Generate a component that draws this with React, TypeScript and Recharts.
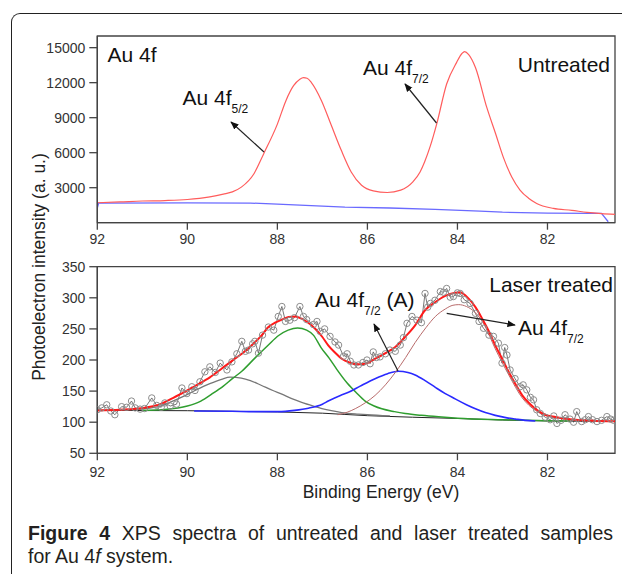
import { LineChart, Line, XAxis, YAxis, ReferenceArea } from "recharts";

// ---- untreated (top panel) ----
const untreatedE = [92, 91.5, 91, 90.5, 90, 89.5, 89.2, 89, 88.8, 88.52, 88.3, 88, 87.81, 87.64, 87.5, 87.42, 87.34, 87.24, 87.02, 86.8, 86.58, 86.36, 86.13, 85.87, 85.56, 85.26, 84.99, 84.83, 84.73, 84.6, 84.46, 84.24, 84.02, 83.9, 83.84, 83.75, 83.6, 83.35, 83.15, 82.98, 82.79, 82.61, 82.42, 82.24, 81.87, 81.46, 81.12, 80.8, 80.5];
const untreatedI = [1710, 1780, 1860, 1900, 1990, 2220, 2450, 2640, 3050, 4200, 5940, 8450, 10460, 11740, 12300, 12430, 12380, 11990, 10460, 8330, 6200, 4350, 3210, 2730, 2590, 2790, 3500, 4350, 5200, 6600, 8470, 11890, 13720, 14500, 14660, 14400, 13300, 9900, 7600, 5600, 3900, 2800, 2100, 1650, 1225, 1060, 885, 780, 716];
const untreatedBgE = [92, 91.97, 90, 88.6, 88, 87.5, 86.5, 85.5, 84.5, 83.5, 83, 82, 81, 80.8, 80.65];
const untreatedBgI = [1250, 1680, 1700, 1680, 1600, 1510, 1330, 1260, 1150, 1000, 900, 820, 800, 800, 80];

// ---- laser treated (bottom panel) ----
const rawE = [92, 91.9, 91.79, 91.7, 91.61, 91.46, 91.35, 91.24, 91.16, 91.05, 90.95, 90.79, 90.68, 90.58, 90.5, 90.38, 90.24, 90.12, 90.01, 89.9, 89.83, 89.72, 89.61, 89.5, 89.38, 89.27, 89.12, 89.01, 88.9, 88.79, 88.71, 88.64, 88.55, 88.5, 88.42, 88.33, 88.2, 88.08, 87.98, 87.9, 87.82, 87.72, 87.62, 87.5, 87.42, 87.35, 87.2, 87.12, 87.05, 86.95, 86.83, 86.72, 86.64, 86.53, 86.45, 86.38, 86.3, 86.2, 86.1, 86.01, 85.94, 85.87, 85.8, 85.72, 85.6, 85.5, 85.38, 85.27, 85.2, 85.12, 85.01, 84.9, 84.8, 84.72, 84.66, 84.6, 84.5, 84.38, 84.31, 84.24, 84.16, 84.09, 84, 83.94, 83.85, 83.72, 83.6, 83.52, 83.42, 83.3, 83.2, 83.09, 83.01, 82.95, 82.9, 82.83, 82.72, 82.61, 82.54, 82.46, 82.38, 82.31, 82.24, 82.16, 82.05, 81.94, 81.86, 81.79, 81.7, 81.61, 81.5, 81.42, 81.35, 81.24, 81.16, 81.09, 81, 80.9, 80.8, 80.68, 80.6, 80.53];
const rawI = [120, 123, 128, 118, 112, 125, 124, 134, 123, 121, 122, 139, 127, 124, 131, 126, 129, 155, 146, 157, 151, 165, 181, 189, 180, 195, 184, 197, 210, 230, 214, 216, 226, 230, 211, 240, 253, 248, 270, 286, 262, 264, 268, 286, 270, 265, 257, 262, 246, 250, 238, 229, 224, 206, 210, 198, 192, 192, 196, 200, 194, 213, 204, 205, 210, 216, 214, 224, 236, 259, 270, 264, 260, 307, 285, 291, 296, 310, 309, 315, 301, 302, 308, 307, 297, 291, 275, 262, 251, 240, 238, 227, 195, 220, 208, 184, 170, 157, 160, 152, 140, 136, 120, 114, 108, 104, 110, 98, 103, 112, 105, 100, 117, 101, 104, 109, 104, 101, 103, 109, 105, 103];

const fitE = [92, 91.5, 90.94, 90.6, 90.35, 90.1, 89.83, 89.5, 89.24, 89, 88.79, 88.55, 88.35, 88.2, 88.05, 87.9, 87.75, 87.6, 87.46, 87.3, 87.16, 87, 86.87, 86.72, 86.57, 86.4, 86.2, 86.05, 85.83, 85.6, 85.38, 85.15, 84.94, 84.72, 84.49, 84.27, 84.05, 83.95, 83.75, 83.6, 83.45, 83.3, 83.16, 83, 82.86, 82.7, 82.56, 82.4, 82.27, 82.05, 81.82, 81.6, 81.38, 81, 80.5];
const fitI = [119, 120, 123.3, 129, 137.8, 147, 158.2, 172, 186, 199, 210, 225, 239.7, 253, 260, 265, 269, 270, 266.4, 259, 250.3, 237, 223.6, 212, 202, 196, 193, 194, 202, 211, 221, 238, 255.8, 280, 293.2, 303, 308.2, 309, 298.6, 285, 266.4, 246, 223.6, 201, 180.7, 160, 143.2, 130, 121.7, 112, 108.4, 105.5, 104, 102.5, 101.4];

const bgE = [92, 90, 89, 88, 87, 86.5, 86, 85, 84, 83, 82, 81, 80.5];
const bgI = [119, 118.5, 117.5, 116.5, 114.5, 112.5, 110.5, 108, 106, 103.5, 102, 101.5, 101];

const grayE = [92, 91.5, 91, 90.6, 90.35, 90.1, 89.83, 89.5, 89.24, 89.05, 88.8, 88.6, 88.35, 88.1, 87.9, 87.68, 87.46, 87.2, 87.01, 86.8, 86.57, 86.2, 86, 85.5];
const grayI = [119, 119.5, 121.5, 126, 133, 141, 151, 162, 169, 172.5, 171, 167, 159, 151, 145, 138, 132, 126, 122, 118.5, 115.5, 113, 112, 110];

const greenE = [91, 90.5, 90, 89.7, 89.46, 89.2, 89, 88.79, 88.5, 88.2, 87.98, 87.76, 87.55, 87.35, 87.2, 87.03, 86.85, 86.68, 86.45, 86.24, 86.05, 85.85, 85.68, 85.4, 85.16, 84.8, 84.42, 84, 83, 82, 81.5];
const greenI = [119, 120.5, 126, 134, 145, 158, 170, 182, 203, 224, 239, 248, 251.5, 248, 240, 220, 203, 185, 163, 147, 134, 126, 121.5, 117, 114, 111, 108.6, 106.5, 104, 102.3, 101.8];

const blueE = [89.85, 89, 88.5, 87.98, 87.62, 87.31, 87, 86.87, 86.6, 86.42, 86.16, 85.83, 85.55, 85.31, 85.1, 84.94, 84.7, 84.49, 84.27, 84.05, 83.8, 83.6, 83.38, 83.16, 82.9, 82.71, 82.5, 82.27];
const blueI = [118, 117.5, 117, 117, 119, 122.5, 129, 134, 143, 148, 158, 170, 178, 182, 180, 176, 166, 156, 146, 137.5, 128, 121.5, 115.5, 111, 107, 105, 103, 102];

const brownE = [86.66, 86.45, 86.27, 86.05, 85.83, 85.6, 85.38, 85.15, 84.94, 84.7, 84.49, 84.27, 84.1, 83.97, 83.8, 83.6, 83.4, 83.16, 82.86, 82.56, 82.27, 81.97, 81.53, 81.08, 80.5];
const brownI = [112, 116, 121.7, 131, 143, 160, 180, 204, 228, 252, 270, 282, 288, 289, 286, 276, 256, 218, 176, 139, 119, 109, 104.6, 102.5, 101.4];

const energyTicks = [92, 90, 88, 86, 84, 82];
const topTicks = [3000, 6000, 9000, 12000, 15000];
const bottomTicks = [50, 100, 150, 200, 250, 300, 350];

const rows = (es: number[], vs: number[]) => es.map((e, i) => ({ e, v: vs[i] }));

const FONT = "'Liberation Sans', Arial, sans-serif";
const AXIS = "#444";
const tickStyle = { fontSize: 14, fill: "#333", fontFamily: FONT };
const captionStyle = { position: "absolute" as const, left: 28, margin: 0, fontFamily: FONT, fontSize: 19.5, lineHeight: "22.5px", color: "#231f20" };

function Sub({ x, y, main, sub, tail }: { x: number; y: number; main: string; sub: string; tail?: string }) {
  return (
    <text x={x} y={y} fontSize={21} fontFamily={FONT} fill="#111">
      {main}
      <tspan fontSize={12} dy={8}>{sub}</tspan>
      {tail ? <tspan dy={-8}>{tail}</tspan> : null}
    </text>
  );
}

export default function App() {
  const xAxisProps = {
    type: "number" as const,
    dataKey: "e",
    domain: [80.5, 92],
    reversed: true,
    ticks: energyTicks,
    allowDataOverflow: true,
    tickSize: 7,
    tick: tickStyle,
    stroke: AXIS,
    strokeWidth: 1.3,
  };
  const yCommon = { type: "number" as const, width: 60, tickSize: 8, tickMargin: 4, tick: tickStyle, stroke: AXIS, strokeWidth: 1.3 };

  return (
    <div style={{ position: "absolute", left: 0, top: 0, width: 622, height: 575, overflow: "hidden", background: "#fff" }}>
      {/* frame */}
      <div style={{ position: "absolute", left: 11, top: 13, width: 700, height: 560, borderTop: "1.3px solid #222", borderLeft: "1.3px solid #222", borderTopLeftRadius: 9 }} />

      <div style={{ position: "absolute", left: 0, top: 0 }}>
        <LineChart width={622} height={250} margin={{ top: 36, right: 7, left: 37.3, bottom: 0 }}>
          <XAxis {...xAxisProps} tickMargin={4} height={27.3} />
          <YAxis {...yCommon} domain={[0, 16000]} ticks={topTicks} />
          <ReferenceArea x1={80.5} x2={92} y1={0} y2={16000} fill="none" stroke={AXIS} strokeWidth={1.3} />
          <Line data={rows(untreatedBgE, untreatedBgI)} dataKey="v" type="linear" stroke="#6a6aff" strokeWidth={1.3} dot={false} isAnimationActive={false} />
          <Line data={rows(untreatedE, untreatedI)} dataKey="v" type="monotone" stroke="#ff5c5c" strokeWidth={1.2} dot={false} isAnimationActive={false} />
        </LineChart>
      </div>

      <div style={{ position: "absolute", left: 0, top: 250 }}>
        <LineChart width={622} height={230.3} margin={{ top: 16.7, right: 7, left: 37.3, bottom: 0 }}>
          <XAxis {...xAxisProps} tickMargin={7} height={27} />
          <YAxis {...yCommon} domain={[50, 350]} ticks={bottomTicks} />
          <ReferenceArea x1={80.5} x2={92} y1={50} y2={350} fill="none" stroke={AXIS} strokeWidth={1.3} />
          <Line data={rows(rawE, rawI)} dataKey="v" type="linear" stroke="#555" strokeWidth={0.8} dot={{ r: 3.2, stroke: "#8c8c8c", strokeWidth: 1, fill: "none" }} isAnimationActive={false} />
          <Line data={rows(bgE, bgI)} dataKey="v" type="linear" stroke="#222" strokeWidth={1} dot={false} isAnimationActive={false} />
          <Line data={rows(grayE, grayI)} dataKey="v" type="monotone" stroke="#777" strokeWidth={1.3} dot={false} isAnimationActive={false} />
          <Line data={rows(greenE, greenI)} dataKey="v" type="monotone" stroke="#2f9e2f" strokeWidth={1.5} dot={false} isAnimationActive={false} />
          <Line data={rows(blueE, blueI)} dataKey="v" type="monotone" stroke="#2a2aff" strokeWidth={1.6} dot={false} isAnimationActive={false} />
          <Line data={rows(brownE, brownI)} dataKey="v" type="monotone" stroke="#b86a6a" strokeWidth={1} dot={false} isAnimationActive={false} />
          <Line data={rows(fitE, fitI)} dataKey="v" type="monotone" stroke="#ff1a1a" strokeWidth={2} dot={false} isAnimationActive={false} />
        </LineChart>
      </div>

      {/* annotations */}
      <svg width={622} height={575} style={{ position: "absolute", left: 0, top: 0, pointerEvents: "none" }}>
        <defs>
          <marker id="ah" viewBox="0 0 10 10" refX="9" refY="5" markerWidth="7" markerHeight="7" orient="auto-start-reverse">
            <path d="M0,1 L10,5 L0,9 z" fill="#111" />
          </marker>
        </defs>
        <text x={107.5} y={61.5} fontSize={21} fontFamily={FONT} fill="#111">Au 4f</text>
        <text x={610} y={71.5} fontSize={21} fontFamily={FONT} fill="#111" textAnchor="end">Untreated</text>
        <Sub x={182.5} y={105} main="Au 4f" sub="5/2" />
        <Sub x={363} y={75} main="Au 4f" sub="7/2" />
        <line x1={264} y1={152} x2={231} y2={122} stroke="#222" strokeWidth={1.2} markerEnd="url(#ah)" />
        <line x1={436.5} y1={123} x2={405} y2={84} stroke="#222" strokeWidth={1.2} markerEnd="url(#ah)" />

        <text x={613} y={292} fontSize={21} fontFamily={FONT} fill="#111" textAnchor="end">Laser treated</text>
        <Sub x={315} y={306.5} main="Au 4f" sub="7/2" tail=" (A)" />
        <Sub x={518} y={335} main="Au 4f" sub="7/2" />
        <line x1={398} y1={371} x2={374} y2={324} stroke="#222" strokeWidth={1.2} markerEnd="url(#ah)" />
        <line x1={446.7} y1={313.3} x2={515} y2={325} stroke="#222" strokeWidth={1.2} markerEnd="url(#ah)" />

        <text x={45} y={267} fontSize={17.5} fontFamily={FONT} fill="#222" textAnchor="middle" transform="rotate(-90 45 267)">
          Photoelectron intensity (a. u.)
        </text>
        <text x={381} y={498} fontSize={17.5} fontFamily={FONT} fill="#222" textAnchor="middle">
          Binding Energy (eV)
        </text>
      </svg>

      {/* caption */}
      <div style={{ ...captionStyle, top: 522, width: 585, textAlign: "justify", textAlignLast: "justify" }}>
        <b>Figure 4</b> XPS spectra of untreated and laser treated samples
      </div>
      <div style={{ ...captionStyle, top: 544.5, whiteSpace: "nowrap" }}>
        for Au 4<i>f</i> system.
      </div>
    </div>
  );
}
